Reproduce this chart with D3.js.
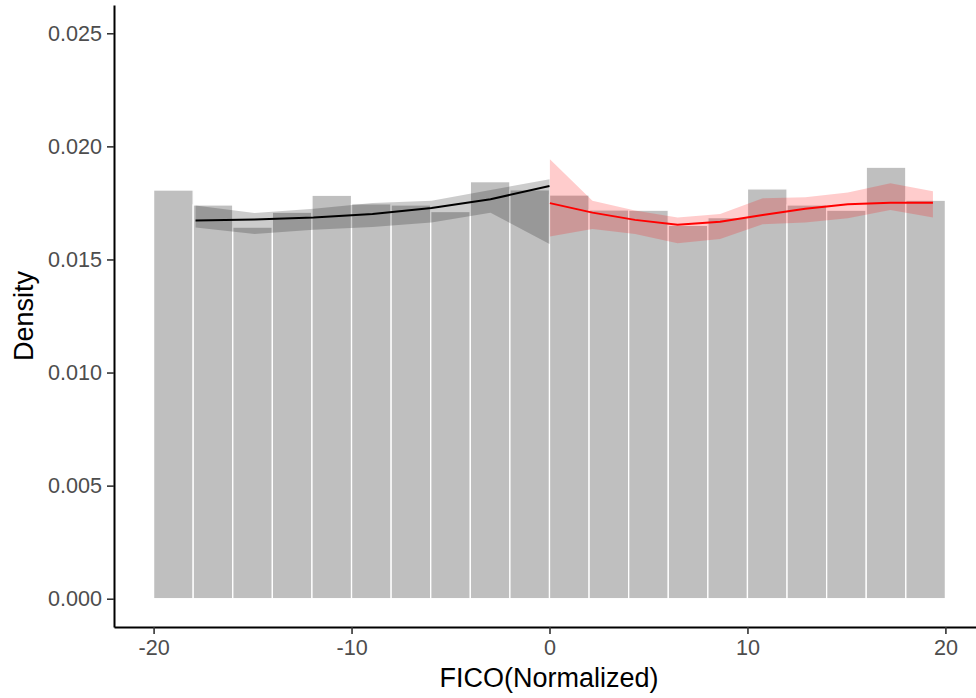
<!DOCTYPE html>
<html>
<head>
<meta charset="utf-8">
<script src="https://cdn.jsdelivr.net/npm/d3@7/dist/d3.min.js"></script>
<style>
  html, body { margin: 0; padding: 0; background: #ffffff; }
  svg { display: block; }
  text { font-family: "Liberation Sans", Arial, Helvetica, sans-serif; }
</style>
</head>
<body>
<svg id="chart" width="976" height="698"></svg>
<script>
// Histogram bins (left / right edges) and their densities
const binLeft  = [-20, -18, -16, -14, -12, -10, -8, -6, -4, -2, 0, 2, 4, 6, 8, 10, 12, 14, 16, 18];
const binRight = [-18, -16, -14, -12, -10, -8, -6, -4, -2, 0, 2, 4, 6, 8, 10, 12, 14, 16, 18, 20];
const binDensity = [0.01807, 0.01741, 0.01643, 0.01709, 0.01784, 0.01746, 0.01741, 0.01712, 0.01844, 0.01808,
                    0.01785, 0.01719, 0.01718, 0.01651, 0.01685, 0.01812, 0.01741, 0.01718, 0.01908, 0.01762];

// Fitted density below the cutoff (black) with its confidence band
const leftX     = [-17.88, -14.9, -11.92, -8.94, -5.96, -2.98, 0];
const leftFit   = [0.01672, 0.01677, 0.01685, 0.01701, 0.01727, 0.01766, 0.01825];
const leftUpper = [0.01738, 0.01705, 0.01724, 0.01750, 0.01759, 0.01807, 0.01855];
const leftLower = [0.01641, 0.01612, 0.01631, 0.01644, 0.01663, 0.01707, 0.01568];

// Fitted density above the cutoff (red) with its confidence band
const rightX     = [0.02, 2.17, 4.32, 6.47, 8.62, 10.77, 12.92, 15.07, 17.22, 19.37];
const rightFit   = [0.01749, 0.01707, 0.01675, 0.01653, 0.01667, 0.01697, 0.01724, 0.01744, 0.01751, 0.01751];
const rightUpper = [0.01943, 0.01760, 0.01716, 0.01685, 0.01701, 0.01771, 0.01775, 0.01796, 0.01837, 0.01802];
const rightLower = [0.01601, 0.01635, 0.01612, 0.01572, 0.01590, 0.01656, 0.01663, 0.01682, 0.01719, 0.01685];

// Axis ticks
const xTicks = [-20, -10, 0, 10, 20];
const xTickLabels = ["-20", "-10", "0", "10", "20"];
const yTicks = [0, 0.005, 0.010, 0.015, 0.020, 0.025];
const yTickLabels = ["0.000", "0.005", "0.010", "0.015", "0.020", "0.025"];

const svg = d3.select("#chart");

const x = d3.scaleLinear().domain([-22, 22]).range([114, 985]);
const y = d3.scaleLinear().domain([-0.00125, 0.02625]).range([627, 5]);

// Histogram bars
svg.append("g")
  .selectAll("rect")
  .data(binDensity.map((d, i) => ({ x0: binLeft[i], x1: binRight[i], d })))
  .join("rect")
  .attr("x", d => x(d.x0))
  .attr("width", d => x(d.x1) - x(d.x0))
  .attr("y", d => y(d.d))
  .attr("height", d => y(0) - y(d.d))
  .attr("fill", "#bfbfbf")
  .attr("stroke", "#ffffff")
  .attr("stroke-width", 1.3);

function band(xs, lo, hi) {
  return d3.area()
    .x((d, i) => x(xs[i]))
    .y0((d, i) => y(lo[i]))
    .y1((d, i) => y(hi[i]))(xs);
}
function fitLine(xs, ys) {
  return d3.line()
    .x((d, i) => x(xs[i]))
    .y((d, i) => y(ys[i]))(xs);
}

// Left side fit
svg.append("path")
  .attr("d", band(leftX, leftLower, leftUpper))
  .attr("fill", "#000000")
  .attr("fill-opacity", 0.2);
svg.append("path")
  .attr("d", fitLine(leftX, leftFit))
  .attr("fill", "none")
  .attr("stroke", "#000000")
  .attr("stroke-width", 2);

// Right side fit
svg.append("path")
  .attr("d", band(rightX, rightLower, rightUpper))
  .attr("fill", "#ff0000")
  .attr("fill-opacity", 0.2);
svg.append("path")
  .attr("d", fitLine(rightX, rightFit))
  .attr("fill", "none")
  .attr("stroke", "#ff0000")
  .attr("stroke-width", 2);

// Axes
const xAxis = d3.axisBottom(x)
  .tickValues(xTicks)
  .tickFormat((d, i) => xTickLabels[i])
  .tickSizeInner(7)
  .tickSizeOuter(0)
  .tickPadding(5);
const yAxis = d3.axisLeft(y)
  .tickValues(yTicks)
  .tickFormat((d, i) => yTickLabels[i])
  .tickSizeInner(7)
  .tickSizeOuter(0)
  .tickPadding(5);

const gx = svg.append("g").attr("transform", "translate(0,627)").call(xAxis);
const gy = svg.append("g").attr("transform", "translate(114,0)").call(yAxis);

[gx, gy].forEach(g => {
  g.select(".domain").attr("stroke", "#000000").attr("stroke-width", 2);
  g.selectAll(".tick line").attr("stroke", "#333333").attr("stroke-width", 1.6);
  g.selectAll(".tick text")
    .attr("fill", "#4d4d4d")
    .style("font-size", "21.6px")
    .style("font-family", "'Liberation Sans', Arial, sans-serif");
});
gx.selectAll(".tick text").attr("dy", "0.75em");

// Axis titles
svg.append("text")
  .attr("x", 549)
  .attr("y", 687)
  .attr("text-anchor", "middle")
  .attr("fill", "#000000")
  .style("font-size", "27px")
  .text("FICO(Normalized)");

svg.append("text")
  .attr("transform", "translate(33,316) rotate(-90)")
  .attr("text-anchor", "middle")
  .attr("fill", "#000000")
  .style("font-size", "27px")
  .text("Density");
</script>
</body>
</html>
